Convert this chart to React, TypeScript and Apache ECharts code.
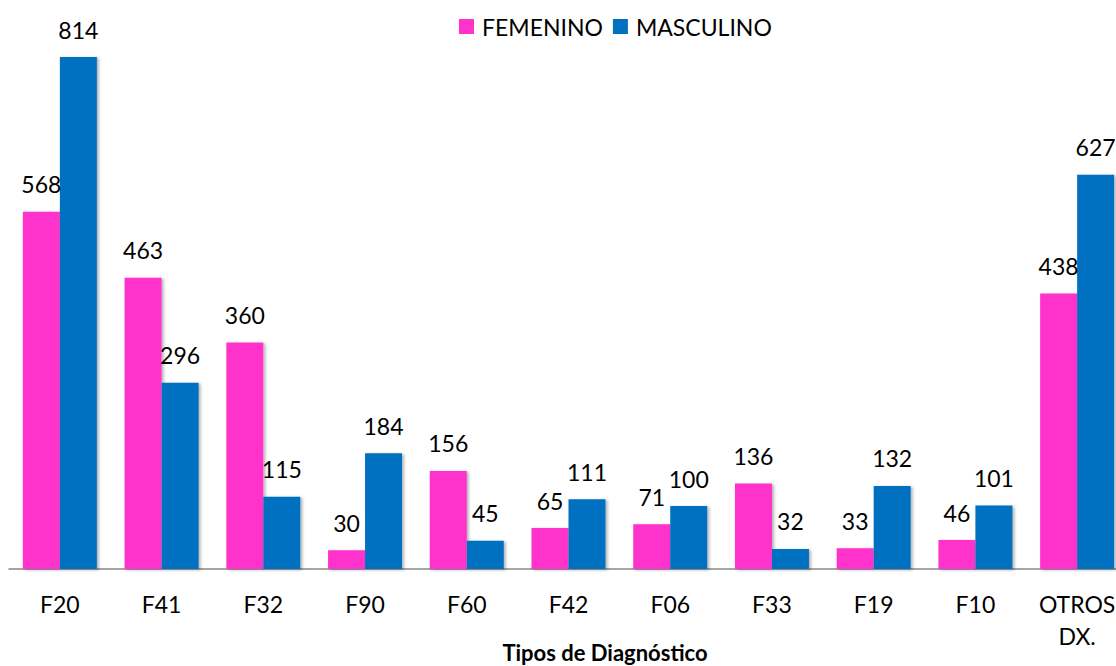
import React, { useEffect, useRef } from "react";
import * as echarts from "echarts";

const categories = ["F20", "F41", "F32", "F90", "F60", "F42", "F06", "F33", "F19", "F10", "OTROS\nDX."];
const femenino = [568, 463, 360, 30, 156, 65, 71, 136, 33, 46, 438];
const masculino = [814, 296, 115, 184, 45, 111, 100, 32, 132, 101, 627];
const seriesNames = ["FEMENINO", "MASCULINO"];
const axisTitle = "Tipos de Diagnóstico";

const FONT = "Lato, 'Open Sans', sans-serif";

export default function App() {
  const ref = useRef<HTMLDivElement>(null);
  useEffect(() => {
    if (!ref.current) return;
    const chart = echarts.init(ref.current, undefined, { renderer: "svg" });
    const label = {
      show: true,
      position: "top" as const,
      distance: 16,
      color: "#000",
      fontFamily: FONT,
      fontSize: 23,
    };
    const shadow = {
      shadowBlur: 3,
      shadowColor: "rgba(0,0,0,0.3)",
      shadowOffsetX: 2,
      shadowOffsetY: 1,
    };
    chart.setOption({
      animation: false,
      textStyle: { fontFamily: FONT },
      legend: {
        left: 454,
        top: 10,
        itemWidth: 15,
        itemHeight: 15,
        itemGap: 10,
        icon: "rect",
        textStyle: { color: "#000", fontSize: 23, fontFamily: FONT, padding: [0, 0, 0, 3] },
        data: seriesNames,
      },
      grid: { left: 9, right: 12, top: 3, bottom: 97, containLabel: false },
      xAxis: {
        type: "category",
        data: categories,
        axisLine: { show: true, lineStyle: { color: "#888", width: 1.5 } },
        axisTick: { show: false },
        axisLabel: {
          color: "#000",
          fontSize: 23,
          fontFamily: FONT,
          lineHeight: 32,
          margin: 19,
          interval: 0,
        },
      },
      yAxis: {
        type: "value",
        min: 0,
        max: 900,
        show: false,
        splitLine: { show: false },
      },
      graphic: [
        {
          type: "text",
          x: 605,
          y: 652,
          style: {
            text: axisTitle,
            fill: "#000",
            font: `bold 22px ${FONT}`,
            textAlign: "center",
            textVerticalAlign: "middle",
          },
        },
      ],
      series: [
        {
          name: seriesNames[0],
          type: "bar",
          data: femenino,
          barWidth: 37,
          barGap: "0%",
          itemStyle: { color: "#FF33CC", ...shadow },
          label,
        },
        {
          name: seriesNames[1],
          type: "bar",
          data: masculino,
          barWidth: 37,
          barGap: "0%",
          itemStyle: { color: "#0070C0", ...shadow },
          label,
        },
      ],
    });
    return () => chart.dispose();
  }, []);
  return (
    <div style={{ position: "fixed", left: 0, top: 0, width: 1116, height: 666, overflow: "hidden", background: "#fff" }}>
      <div ref={ref} style={{ position: "absolute", left: 0, top: 0, width: 1140, height: 666 }} />
    </div>
  );
}
